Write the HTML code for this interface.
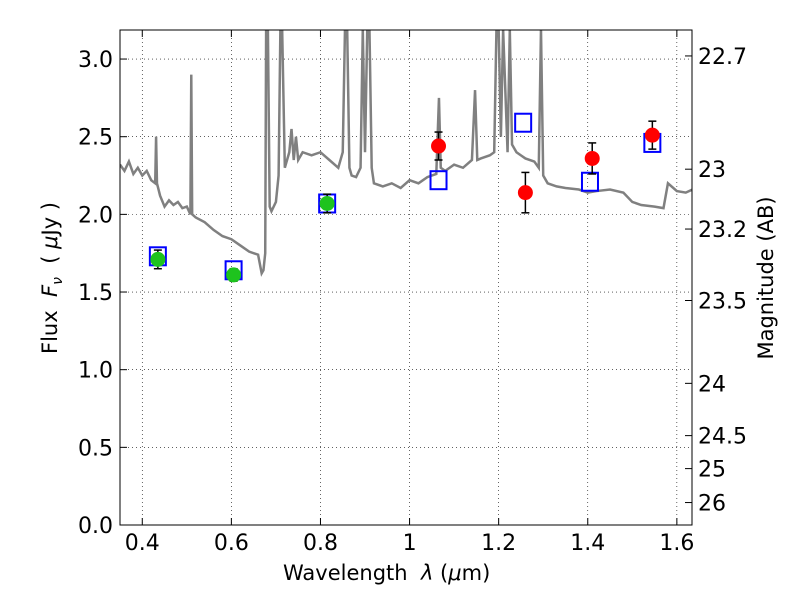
<!DOCTYPE html>
<html><head><meta charset="utf-8"><style>
body{margin:0;background:#fff;}
svg{display:block;font-family:"DejaVu Sans","Liberation Sans",sans-serif;}
</style></head><body>
<svg id="chart" width="800" height="600" viewBox="0 0 800 600"></svg>
<script>
const xTicks=[0.4,0.6,0.8,1.0,1.2,1.4,1.6];
const xTickLabels=["0.4","0.6","0.8","1","1.2","1.4","1.6"];
const yTicks=[0,0.5,1,1.5,2,2.5,3];
const yTickLabels=["0.0","0.5","1.0","1.5","2.0","2.5","3.0"];
const magTicks=[22.7,23,23.2,23.5,24,24.5,25,26];
const specWave=[0.35,0.36,0.37,0.38,0.39,0.40,0.41,0.42,0.429,0.431,0.433,0.44,0.45,0.46,0.47,0.48,0.49,0.50,0.508,0.510,0.512,0.52,0.54,0.56,0.58,0.60,0.62,0.64,0.66,0.668,0.672,0.676,0.678,0.682,0.686,0.69,0.70,0.706,0.710,0.714,0.72,0.73,0.735,0.74,0.745,0.75,0.76,0.78,0.80,0.82,0.84,0.85,0.855,0.86,0.865,0.87,0.88,0.89,0.895,0.90,0.905,0.91,0.915,0.92,0.94,0.96,0.98,1.00,1.02,1.04,1.06,1.066,1.07,1.08,1.10,1.12,1.14,1.147,1.152,1.16,1.18,1.19,1.195,1.20,1.205,1.21,1.22,1.225,1.23,1.24,1.25,1.26,1.28,1.29,1.295,1.30,1.31,1.33,1.35,1.38,1.40,1.42,1.45,1.48,1.50,1.52,1.55,1.57,1.58,1.60,1.62,1.635];
const specFlux=[2.32,2.28,2.34,2.26,2.3,2.25,2.28,2.22,2.2,2.5,2.2,2.12,2.05,2.09,2.06,2.08,2.04,2.05,2.0,2.9,2.0,1.98,1.95,1.9,1.86,1.84,1.8,1.76,1.74,1.62,1.64,1.75,3.19,3.19,2.05,2.02,2.08,2.25,3.19,3.19,2.3,2.4,2.55,2.35,2.5,2.35,2.4,2.38,2.4,2.35,2.3,2.4,3.19,3.19,2.3,2.25,2.24,2.3,3.19,2.4,3.19,3.19,2.3,2.2,2.18,2.2,2.17,2.22,2.2,2.24,2.26,2.75,2.3,2.28,2.32,2.3,2.35,2.8,2.35,2.36,2.38,2.4,3.19,3.19,2.5,3.19,2.4,3.19,2.45,2.4,2.38,2.36,2.34,2.3,3.19,2.25,2.2,2.18,2.17,2.16,2.14,2.15,2.16,2.14,2.08,2.06,2.05,2.04,2.2,2.15,2.14,2.16];
const greenWave=[0.435,0.605,0.815];
const greenFlux=[1.71,1.61,2.07];
const greenErr=[0.06,0.04,0.06];
const redWave=[1.065,1.26,1.41,1.545];
const redFlux=[2.44,2.14,2.36,2.51];
const redErr=[0.09,0.13,0.1,0.09];
const modelWave=[0.435,0.605,0.815,1.065,1.255,1.405,1.545];
const modelFlux=[1.73,1.64,2.07,2.22,2.59,2.21,2.46];

const L=120,R=692,T=30,B=525,xmin=0.35,xmax=1.634,ymin=0,ymax=3.187;
const X=v=>L+(v-xmin)/(xmax-xmin)*(R-L);
const Y=v=>B-(v-ymin)/(ymax-ymin)*(B-T);
const NS="http://www.w3.org/2000/svg";
const svg=document.getElementById('chart');
function mk(tag,attrs,parent){const e=document.createElementNS(NS,tag);for(const k in attrs)e.setAttribute(k,attrs[k]);(parent||svg).appendChild(e);return e;}
const clip=mk('clipPath',{id:'pc'});mk('rect',{x:L,y:T,width:R-L,height:B-T},clip);

xTicks.forEach((t,i)=>{
 const g=mk('line',{x1:X(t),x2:X(t),y1:T,y2:B,stroke:'#000','stroke-dasharray':'1,3','stroke-width':0.6});
 
 mk('line',{x1:X(t),x2:X(t),y1:B,y2:B-7,stroke:'#000'});mk('line',{x1:X(t),x2:X(t),y1:T,y2:T+7,stroke:'#000'});
 const tx=mk('text',{x:X(t),y:B+25,'text-anchor':'middle','font-size':22});tx.textContent=xTickLabels[i];
 
});
yTicks.forEach((t,i)=>{
 const g=mk('line',{x1:L,x2:R,y1:Y(t),y2:Y(t),stroke:'#000','stroke-dasharray':'1,3','stroke-width':0.6});
 
 mk('line',{x1:L,x2:L+7,y1:Y(t),y2:Y(t),stroke:'#000'});
 const tx=mk('text',{x:L-7,y:Y(t)+8,'text-anchor':'end','font-size':22});tx.textContent=yTickLabels[i];
 
});
magTicks.forEach(m=>{
 const f=Math.pow(10,(23.9-m)/2.5);
 mk('line',{x1:R,x2:R-7,y1:Y(f),y2:Y(f),stroke:'#000'});
 const tx=mk('text',{x:R+6,y:Y(f)+8,'font-size':22});tx.textContent=String(m);
 
});
const sp=mk('polyline',{points:specWave.map((w,i)=>X(w)+','+Y(specFlux[i])).join(' '),fill:'none',stroke:'#808080','stroke-width':2.5,'clip-path':'url(#pc)'});

modelWave.forEach((w,i)=>{
 const r=mk('rect',{x:X(w)-8,y:Y(modelFlux[i])-9,width:16,height:18,fill:'none',stroke:'#0000ff','stroke-width':2});
 
});
function pts(ws,fs,es,col,name){ws.forEach((w,i)=>{
 const x=X(w);
 mk('line',{x1:x,x2:x,y1:Y(fs[i]-es[i]),y2:Y(fs[i]+es[i]),stroke:'#000','stroke-width':1.5});
 mk('line',{x1:x-4,x2:x+4,y1:Y(fs[i]-es[i]),y2:Y(fs[i]-es[i]),stroke:'#000','stroke-width':1.5});
 mk('line',{x1:x-4,x2:x+4,y1:Y(fs[i]+es[i]),y2:Y(fs[i]+es[i]),stroke:'#000','stroke-width':1.5});
 const c=mk('circle',{cx:x,cy:Y(fs[i]),r:7.5,fill:col});
 
});}
pts(greenWave,greenFlux,greenErr,'#1ec31e','optical-data-point');
pts(redWave,redFlux,redErr,'#ff0000','nir-data-point');
const fr=mk('rect',{x:L,y:T,width:R-L,height:B-T,fill:'none',stroke:'#000','stroke-width':1});

</script>
<div style="position:absolute;left:0;top:0;width:800px;height:600px;pointer-events:none;font-family:'DejaVu Sans','Liberation Sans',sans-serif;">
<div style="position:absolute;left:283px;top:561px;font-size:21px;white-space:nowrap;">Wavelength&nbsp; <i>λ</i> (<i>μ</i>m)</div>
<div style="position:absolute;left:52px;top:278px;transform:translate(-50%,-50%) rotate(-90deg);font-size:21px;white-space:nowrap;">Flux&nbsp; <i>F<sub style="font-size:14px">ν</sub></i>&nbsp; ( <i>μ</i>Jy )</div>
<div style="position:absolute;left:766px;top:278px;transform:translate(-50%,-50%) rotate(-90deg);font-size:21px;white-space:nowrap;">Magnitude (AB)</div>
</div>
</body></html>
